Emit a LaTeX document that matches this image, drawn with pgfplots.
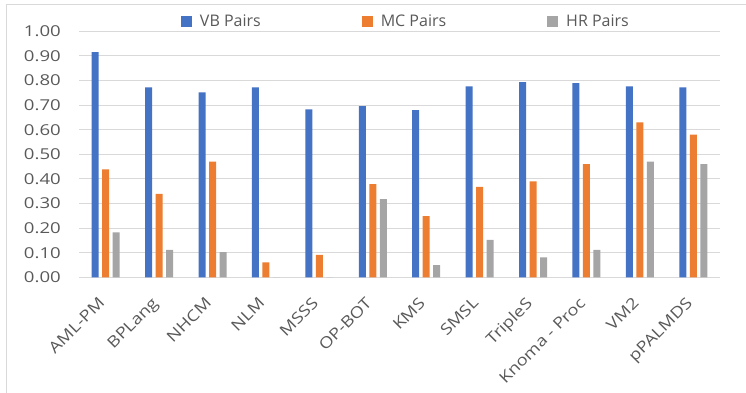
\documentclass[border=0pt]{standalone}
\usepackage{pgfplots}
\pgfplotsset{compat=1.18}
\usepackage{pgfplotstable}
\usepackage{fontspec}
\setmainfont{Open Sans}
\newfontfamily\yfont[FakeStretch=1.24]{Open Sans}
\newfontfamily\xfont[FakeStretch=1.18]{Open Sans}
\definecolor{cvb}{HTML}{4472C4}
\definecolor{cmc}{HTML}{ED7D31}
\definecolor{chr}{HTML}{A5A5A5}
\definecolor{ctxt}{HTML}{595959}
\definecolor{cgrid}{HTML}{D9D9D9}
\pgfplotstableread{
x vb mc hr
0 0.915 0.439 0.183
1 0.772 0.339 0.111
2 0.752 0.470 0.102
3 0.772 0.061 0
4 0.683 0.091 0
5 0.696 0.379 0.318
6 0.680 0.249 0.050
7 0.776 0.368 0.152
8 0.793 0.390 0.081
9 0.789 0.460 0.111
10 0.776 0.630 0.470
11 0.772 0.580 0.460
}\data
\begin{document}
\begin{tikzpicture}
\draw[cgrid, line width=1pt] (6pt,-20pt) -- (6pt,387pt) -- (770pt,387pt);
\begin{axis}[
  at={(79pt,114.7pt)}, anchor=south west,
  scale only axis, width=641pt, height=246pt,
  xmin=-0.5, xmax=11.5, ymin=0, ymax=1,
  ybar=3.5pt, bar width=7pt,
  axis x line*=bottom, axis y line*=left,
  y axis line style={draw=none},
  x axis line style={draw=cgrid, line width=1pt, -},
  major tick length=0pt,
  ytick={0,0.1,...,1.0},
  ymajorgrids, grid style={cgrid, line width=1pt},
  yticklabel={\pgfmathprintnumber[fixed,fixed zerofill,precision=2]{\tick}},
  /pgf/number format/assume math mode=true,
  yticklabel style={font=\yfont\fontsize{15}{18}\selectfont, text=ctxt, inner sep=0pt, xshift=-18pt},
  xtick=data,
  xticklabels={AML-PM,BPLang,NHCM,NLM,MSSS,OP-BOT,KMS,SMSL,TripleS,Knoma - Proc,VM2,pPALMDS},
  xticklabel style={font=\xfont\fontsize{15.5}{18}\selectfont, text=ctxt, rotate=45, anchor=north east, inner sep=0pt, xshift=-19pt, yshift=-7.5pt},
  legend columns=3,
  legend style={at={(0.51,1.04)}, anchor=center, draw=none, fill=none,
    font=\fontsize{16}{18}\selectfont, text=ctxt,
    /tikz/every odd column/.append style={column sep=6pt},
    /tikz/every even column/.append style={column sep=99pt}},
  legend image code/.code={\fill[#1] (0pt,-5.5pt) rectangle (11pt,5.5pt);},
]
\addplot[fill=cvb, draw=none] table[x=x, y=vb] {\data};
\addplot[fill=cmc, draw=none] table[x=x, y=mc] {\data};
\addplot[fill=chr, draw=none] table[x=x, y=hr] {\data};
\legend{VB Pairs, MC Pairs, HR Pairs}
\end{axis}
\pgfresetboundingbox
\path[use as bounding box] (0,0) rectangle (746pt,392pt);
\end{tikzpicture}
\end{document}
